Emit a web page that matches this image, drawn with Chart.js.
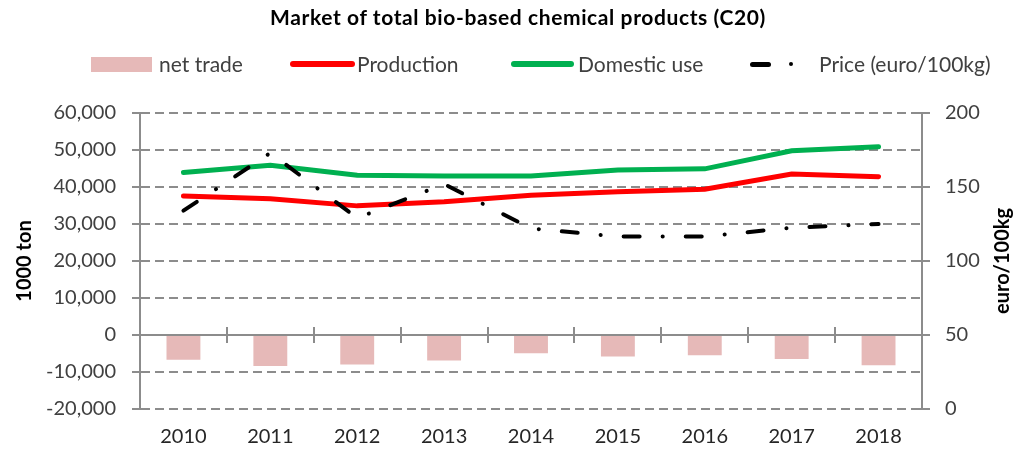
<!DOCTYPE html>
<html>
<head>
<meta charset="utf-8">
<script src="https://cdn.jsdelivr.net/npm/chart.js@4.4.1/dist/chart.umd.min.js"></script>
<style>
  body { margin: 0; background: #fff; }
  #wrap { position: relative; width: 1029px; height: 457px; font-family: Lato, sans-serif; }
  #chart { position: absolute; left: 0; top: 0; }
  .title { position: absolute; left: 0; width: 1036px; top: 4px; text-align: center; font-weight: bold; font-size: 21px; letter-spacing: 0.6px; color: #000; }
  .lgtext { position: absolute; top: 51px; line-height: 26px; font-size: 21px; color: #404040; white-space: nowrap; }
  .sw { position: absolute; }
</style>
</head>
<body>
<div id="wrap">
  <canvas id="chart" width="1029" height="457"></canvas>
  <div class="title">Market of total bio-based chemical products (C20)</div>
  <div class="sw" style="left:91px;top:57px;width:61px;height:15px;background:#e6b9b8"></div>
  <div class="lgtext" style="left:159px">net trade</div>
  <div class="sw" style="left:290px;top:61px;width:65px;height:6px;border-radius:3px;background:#ff0000"></div>
  <div class="lgtext" style="left:357px">Production</div>
  <div class="sw" style="left:511px;top:61px;width:63px;height:6px;border-radius:3px;background:#00b050"></div>
  <div class="lgtext" style="left:578px">Domestic use</div>
  <div class="sw" style="left:750px;top:62px;width:21px;height:5px;border-radius:3px;background:#000"></div>
  <div class="sw" style="left:789px;top:62px;width:4px;height:4px;border-radius:2px;background:#000"></div>
  <div class="lgtext" style="left:819px">Price (euro/100kg)</div>
</div>
<script>
// data
const years = ['2010', '2011', '2012', '2013', '2014', '2015', '2016', '2017', '2018'];
const netTrade = [-6700, -8400, -8000, -6900, -4900, -5800, -5500, -6500, -8200];
const production = [37600, 36800, 34900, 36000, 37800, 38700, 39400, 43500, 42800];
const domesticUse = [43900, 45900, 43200, 43000, 43000, 44600, 44900, 49800, 50900];
const price = [134, 173, 129, 152, 122, 116.5, 116.5, 122.5, 125];

const leftTicks = { min: -20000, max: 60000, step: 10000 };
const rightTicks = { min: 0, max: 200, step: 50 };

const axisGrey = '#8c8c8c';
const tickFont = { family: 'Lato', size: 20 };

// cross-shaped tick marks, zero line and right axis title
const axisExtras = {
    id: 'axisExtras',
    afterDraw(chart) {
        const ctx = chart.ctx;
        const { x, y, y1 } = chart.scales;
        ctx.save();
        ctx.strokeStyle = axisGrey;
        ctx.lineWidth = 2;
        ctx.setLineDash([]);
        ctx.beginPath();
        y.ticks.forEach(t => {
            const py = Math.round(y.getPixelForValue(t.value));
            ctx.moveTo(y.right - 8, py);
            ctx.lineTo(y.right + 8, py);
        });
        y1.ticks.forEach(t => {
            const py = Math.round(y1.getPixelForValue(t.value));
            ctx.moveTo(y1.left - 8, py);
            ctx.lineTo(y1.left + 8, py);
        });
        const zeroY = Math.round(y.getPixelForValue(0));
        ctx.moveTo(chart.chartArea.left, zeroY);
        ctx.lineTo(chart.chartArea.right, zeroY);
        for (let i = 0; i <= years.length; i++) {
            const px = Math.round(x.getPixelForValue(i - 0.5));
            ctx.moveTo(px, zeroY - 8);
            ctx.lineTo(px, zeroY + 8);
        }
        ctx.stroke();

        ctx.translate(1003, (chart.chartArea.top + chart.chartArea.bottom) / 2);
        ctx.rotate(-Math.PI / 2);
        ctx.fillStyle = '#000';
        ctx.font = 'bold 20px Lato';
        ctx.textAlign = 'center';
        ctx.textBaseline = 'middle';
        ctx.fillText('euro/100kg', 0, 0);
        ctx.restore();
    }
};

new Chart(document.getElementById('chart'), {
    type: 'bar',
    data: {
        labels: years,
        datasets: [
            {
                type: 'bar',
                label: 'net trade',
                data: netTrade,
                backgroundColor: '#e6b9b8',
                barPercentage: 0.39,
                categoryPercentage: 1,
                yAxisID: 'y',
                order: 4
            },
            {
                type: 'line',
                label: 'Production',
                data: production,
                borderColor: '#ff0000',
                borderWidth: 5,
                pointRadius: 0,
                tension: 0,
                borderCapStyle: 'round',
                yAxisID: 'y',
                order: 3
            },
            {
                type: 'line',
                label: 'Domestic use',
                data: domesticUse,
                borderColor: '#00b050',
                borderWidth: 5,
                pointRadius: 0,
                tension: 0,
                borderCapStyle: 'round',
                yAxisID: 'y',
                order: 2
            },
            {
                type: 'line',
                label: 'Price (euro/100kg)',
                data: price,
                borderColor: '#000',
                borderWidth: 4,
                borderDash: [16, 23, 0.1, 23],
                borderCapStyle: 'round',
                pointRadius: 0,
                tension: 0,
                yAxisID: 'y1',
                order: 1
            }
        ]
    },
    options: {
        responsive: false,
        animation: false,
        devicePixelRatio: 1,
        layout: { padding: { top: 113, left: 0, right: 0, bottom: 0 } },
        plugins: {
            legend: { display: false },
            title: { display: false },
            tooltip: { enabled: false }
        },
        scales: {
            x: {
                offset: true,
                grid: { display: false, drawTicks: false },
                border: { display: false },
                ticks: { color: '#262626', font: tickFont, padding: 16 },
                afterFit: s => { s.height = 48; }
            },
            y: {
                position: 'left',
                min: leftTicks.min,
                max: leftTicks.max,
                grid: {
                    color: axisGrey,
                    lineWidth: 2,
                    drawTicks: false
                },
                border: {
                    display: true,
                    color: axisGrey,
                    width: 2,
                    dash: c => (c.tick && c.tick.value === 0) ? [] : [9, 5]
                },
                ticks: {
                    stepSize: leftTicks.step,
                    color: '#404040',
                    font: tickFont,
                    padding: 24,
                    callback: v => v.toLocaleString('en-US')
                },
                title: {
                    display: true,
                    text: '1000 ton',
                    color: '#000',
                    font: { family: 'Lato', size: 20, weight: 'bold' },
                    padding: { top: 13, bottom: 0 }
                },
                afterFit: s => { s.width = 140; }
            },
            y1: {
                position: 'right',
                min: rightTicks.min,
                max: rightTicks.max,
                grid: { drawOnChartArea: false, drawTicks: false },
                border: { display: true, color: axisGrey, width: 2 },
                ticks: {
                    stepSize: rightTicks.step,
                    color: '#404040',
                    font: tickFont,
                    padding: 23
                },
                afterFit: s => { s.width = 107; }
            }
        }
    },
    plugins: [axisExtras]
});
</script>
</body>
</html>
